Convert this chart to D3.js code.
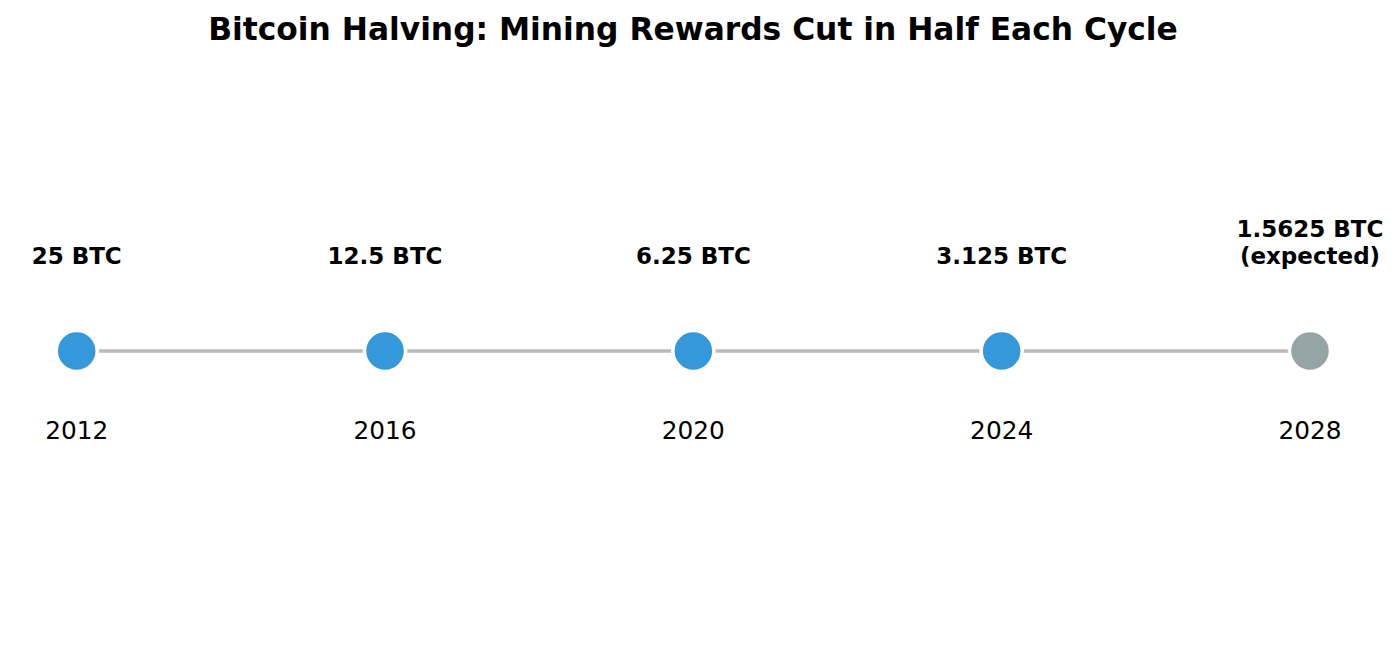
<!DOCTYPE html>
<html>
<head>
<meta charset="utf-8">
<script src="https://cdn.jsdelivr.net/npm/d3@7"></script>
<style>
  body { margin: 0; background: #fff; }
  text { font-family: "DejaVu Sans", sans-serif; }
</style>
</head>
<body>
<div class="canvas"></div>
<script>
// data
const years = ["2012", "2016", "2020", "2024", "2028"];
const rewards = [25, 12.5, 6.25, 3.125, 1.5625];
const rewardLabels = [["25 BTC"], ["12.5 BTC"], ["6.25 BTC"], ["3.125 BTC"], ["1.5625 BTC", "(expected)"]];
const expected = [false, false, false, false, true];

// dimensions
const w = 1398;
const h = 659;
const lineY = 351;

const svg = d3.select(".canvas").append("svg").attr("width", w).attr("height", h);

// title
svg
  .append("text")
  .attr("x", 693)
  .attr("y", 40)
  .attr("text-anchor", "middle")
  .attr("font-size", "31.3px")
  .attr("font-weight", "bold")
  .text("Bitcoin Halving: Mining Rewards Cut in Half Each Cycle");

const x = d3.scalePoint().domain(years).range([76.7, 1310]);

const points = years.map((y, i) => ({ year: y, reward: rewards[i], label: rewardLabels[i], expected: expected[i] }));

// connecting segments
svg
  .selectAll("line.seg")
  .data(d3.pairs(points))
  .enter()
  .append("line")
  .attr("class", "seg")
  .attr("x1", (d) => x(d[0].year))
  .attr("x2", (d) => x(d[1].year))
  .attr("y1", lineY)
  .attr("y2", lineY)
  .attr("stroke", "#bbbbbb")
  .attr("stroke-width", 3.3);

// markers
svg
  .selectAll("circle")
  .data(points)
  .enter()
  .append("circle")
  .attr("cx", (d) => x(d.year))
  .attr("cy", lineY)
  .attr("r", 20.5)
  .attr("fill", (d) => (d.expected ? "#95a5a6" : "#3498db"))
  .attr("stroke", "white")
  .attr("stroke-width", 3.5);

// reward labels (bottom aligned above the marker)
const lbl = svg
  .selectAll("text.reward")
  .data(points)
  .enter()
  .append("text")
  .attr("class", "reward")
  .attr("text-anchor", "middle")
  .attr("font-size", "23px")
  .attr("font-weight", "bold");
lbl
  .selectAll("tspan")
  .data((d) => d.label.map((t, j) => ({ t, j, n: d.label.length, year: d.year })))
  .enter()
  .append("tspan")
  .attr("x", (d) => x(d.year))
  .attr("y", (d) => 264 - (d.n - 1 - d.j) * 27)
  .text((d) => d.t);

// year labels
svg
  .selectAll("text.year")
  .data(points)
  .enter()
  .append("text")
  .attr("class", "year")
  .attr("x", (d) => x(d.year))
  .attr("y", 439)
  .attr("text-anchor", "middle")
  .attr("font-size", "24.8px")
  .text((d) => d.year);
</script>
</body>
</html>
